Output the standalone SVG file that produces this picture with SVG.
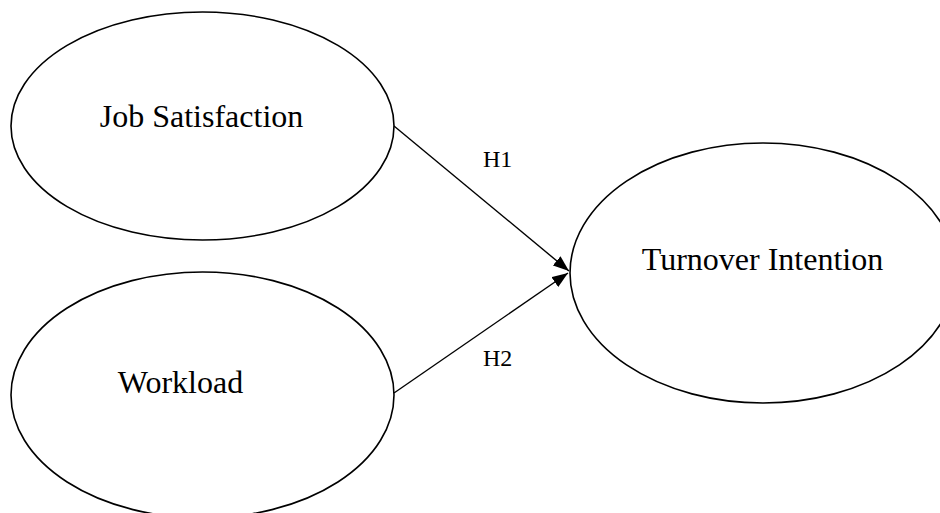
<svg xmlns="http://www.w3.org/2000/svg" width="940" height="513" viewBox="0 0 940 513">
  <style>
    .node { fill: #ffffff; stroke: #000000; stroke-width: 1.6; }
    .label { font-family: "Liberation Serif", "Times New Roman", serif; font-size: 32px; fill: #000000; }
    .edge { stroke: #000000; stroke-width: 1.4; fill: none; marker-end: url(#arrow); }
    .elabel { font-family: "Liberation Serif", "Times New Roman", serif; font-size: 24px; fill: #000000; }
  </style>
  <defs>
    <marker id="arrow" markerUnits="userSpaceOnUse" markerWidth="16" markerHeight="12" viewBox="0 0 16 12" refX="16" refY="6" orient="auto">
      <path d="M0,0 L16,6 L0,12 z" fill="#000000"/>
    </marker>
  </defs>
  <rect x="0" y="0" width="940" height="513" fill="#ffffff"/>
  <g id="job-satisfaction">
    <ellipse class="node" cx="202.5" cy="126" rx="191.5" ry="114"/>
    <text class="label" x="201.5" y="127" text-anchor="middle">Job Satisfaction</text>
  </g>
  <g id="workload">
    <ellipse class="node" cx="202.5" cy="395" rx="191.5" ry="123"/>
    <text class="label" x="180.5" y="393" text-anchor="middle">Workload</text>
  </g>
  <g id="turnover-intention">
    <ellipse class="node" cx="763" cy="273" rx="193" ry="130"/>
    <text class="label" x="762.5" y="270" text-anchor="middle">Turnover Intention</text>
  </g>
  <g id="connectors">
    <line class="edge" x1="394" y1="126" x2="569" y2="271"/>
    <line class="edge" x1="394" y1="393" x2="568" y2="273"/>
    <text class="elabel" x="483" y="167">H1</text>
    <text class="elabel" x="483" y="366">H2</text>
  </g>
</svg>
